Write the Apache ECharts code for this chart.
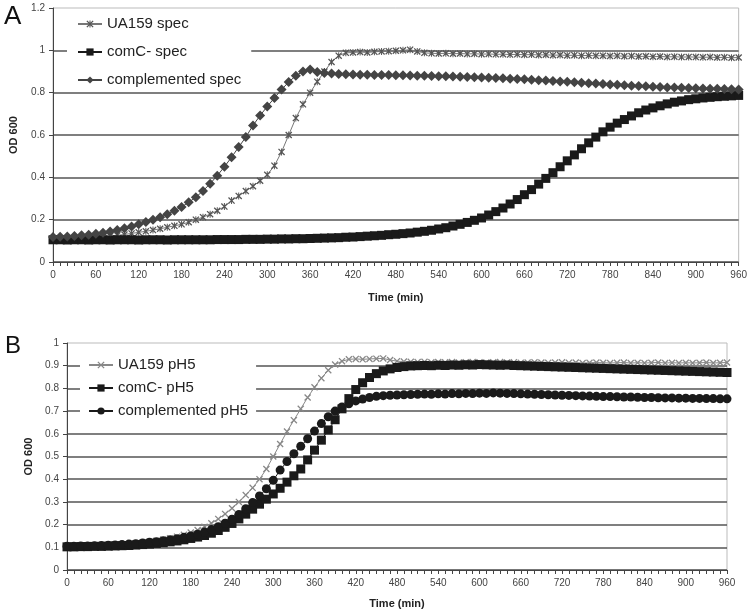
<!DOCTYPE html>
<html><head><meta charset="utf-8">
<script src="https://cdn.jsdelivr.net/npm/echarts@6/dist/echarts.min.js"></script>
<style>html,body{margin:0;padding:0;background:#fff}#c{width:750px;height:613px}</style>
</head><body><div id="c"></div>
<script>
const times = [0,10,20,30,40,50,60,70,80,90,100,110,120,130,140,150,160,170,180,190,200,210,220,230,240,250,260,270,280,290,300,310,320,330,340,350,360,370,380,390,400,410,420,430,440,450,460,470,480,490,500,510,520,530,540,550,560,570,580,590,600,610,620,630,640,650,660,670,680,690,700,710,720,730,740,750,760,770,780,790,800,810,820,830,840,850,860,870,880,890,900,910,920,930,940,950,960];

// Panel A
const uaSpec = [0.110,0.110,0.111,0.112,0.113,0.115,0.117,0.119,0.122,0.126,
0.130,0.135,0.140,0.145,0.151,0.157,0.164,0.171,0.178,0.188,
0.200,0.212,0.226,0.242,0.262,0.290,0.312,0.335,0.358,0.384,
0.412,0.455,0.520,0.600,0.680,0.745,0.800,0.852,0.900,0.945,
0.975,0.988,0.990,0.992,0.990,0.993,0.995,0.996,0.998,1.000,
1.003,0.995,0.988,0.986,0.985,0.986,0.984,0.985,0.983,0.984,
0.982,0.983,0.981,0.982,0.980,0.981,0.979,0.980,0.978,0.979,
0.977,0.978,0.976,0.977,0.975,0.976,0.974,0.975,0.973,0.974,
0.972,0.973,0.971,0.972,0.970,0.971,0.969,0.970,0.968,0.969,
0.968,0.967,0.968,0.966,0.967,0.965,0.966];
const comSpec = [0.105,0.105,0.104,0.105,0.105,0.104,0.105,0.105,0.104,0.105,
0.105,0.105,0.104,0.105,0.105,0.105,0.104,0.105,0.105,0.105,
0.105,0.105,0.105,0.106,0.106,0.106,0.106,0.107,0.107,0.107,
0.108,0.108,0.109,0.109,0.110,0.110,0.111,0.112,0.113,0.114,
0.115,0.117,0.118,0.120,0.122,0.124,0.126,0.129,0.131,0.134,
0.137,0.141,0.145,0.150,0.156,0.162,0.170,0.178,0.187,0.197,
0.208,0.222,0.238,0.255,0.274,0.295,0.318,0.342,0.368,0.395,
0.422,0.450,0.478,0.506,0.535,0.563,0.590,0.615,0.637,0.656,
0.673,0.690,0.705,0.718,0.728,0.738,0.747,0.755,0.761,0.767,
0.771,0.775,0.778,0.781,0.783,0.785,0.787];
const compSpec = [0.118,0.119,0.121,0.123,0.126,0.129,0.133,0.138,0.144,0.151,
0.159,0.168,0.178,0.189,0.200,0.212,0.226,0.242,0.260,0.282,
0.306,0.336,0.370,0.408,0.450,0.495,0.543,0.590,0.645,0.692,
0.735,0.775,0.815,0.850,0.880,0.900,0.910,0.898,0.893,0.890,
0.888,0.887,0.886,0.885,0.885,0.884,0.884,0.883,0.882,0.882,
0.881,0.880,0.880,0.879,0.878,0.877,0.876,0.875,0.874,0.873,
0.872,0.871,0.869,0.868,0.866,0.865,0.863,0.861,0.859,0.857,
0.855,0.853,0.851,0.849,0.847,0.845,0.843,0.841,0.839,0.837,
0.835,0.833,0.831,0.830,0.828,0.827,0.825,0.824,0.823,0.822,
0.821,0.820,0.819,0.818,0.817,0.816,0.815];

// Panel B
const uaPh = [0.105,0.105,0.106,0.106,0.107,0.108,0.109,0.111,0.113,0.115,
0.118,0.121,0.125,0.129,0.134,0.140,0.147,0.155,0.165,0.176,
0.190,0.206,0.225,0.247,0.272,0.300,0.330,0.362,0.400,0.445,
0.500,0.555,0.610,0.660,0.710,0.760,0.805,0.845,0.880,0.905,
0.920,0.928,0.930,0.928,0.930,0.931,0.932,0.925,0.920,0.918,
0.917,0.916,0.917,0.915,0.916,0.915,0.916,0.914,0.915,0.916,
0.915,0.914,0.915,0.916,0.914,0.915,0.913,0.914,0.915,0.914,
0.913,0.914,0.915,0.913,0.914,0.912,0.913,0.914,0.913,0.912,
0.913,0.914,0.912,0.913,0.912,0.913,0.914,0.912,0.913,0.912,
0.913,0.912,0.913,0.914,0.912,0.913,0.914];
const comPh = [0.102,0.102,0.103,0.103,0.104,0.104,0.105,0.106,0.107,0.108,
0.110,0.112,0.114,0.117,0.120,0.124,0.128,0.133,0.139,0.145,
0.152,0.162,0.174,0.188,0.205,0.225,0.246,0.268,0.290,0.312,
0.335,0.360,0.387,0.415,0.445,0.485,0.528,0.572,0.617,0.662,
0.710,0.755,0.795,0.825,0.848,0.865,0.877,0.886,0.892,0.896,
0.899,0.900,0.901,0.900,0.902,0.901,0.903,0.902,0.904,0.903,
0.905,0.904,0.903,0.902,0.903,0.901,0.900,0.899,0.898,0.897,
0.896,0.895,0.894,0.893,0.892,0.891,0.890,0.889,0.888,0.887,
0.886,0.885,0.884,0.883,0.882,0.881,0.880,0.879,0.878,0.877,
0.876,0.875,0.874,0.873,0.872,0.871,0.870];
const compPh = [0.105,0.105,0.106,0.106,0.107,0.108,0.109,0.110,0.112,0.114,
0.116,0.119,0.122,0.125,0.129,0.133,0.138,0.144,0.150,0.158,
0.167,0.178,0.191,0.206,0.224,0.245,0.270,0.297,0.326,0.358,
0.395,0.440,0.478,0.512,0.545,0.578,0.612,0.645,0.675,0.700,
0.718,0.732,0.745,0.753,0.760,0.765,0.768,0.770,0.771,0.772,
0.773,0.774,0.775,0.774,0.776,0.775,0.777,0.776,0.778,0.777,
0.779,0.778,0.780,0.779,0.778,0.777,0.776,0.775,0.774,0.773,
0.772,0.771,0.770,0.769,0.768,0.767,0.766,0.765,0.764,0.764,
0.763,0.762,0.762,0.761,0.760,0.760,0.759,0.758,0.758,0.757,
0.757,0.756,0.756,0.755,0.755,0.754,0.754];

const namesA = ['UA159 spec','comC- spec','complemented spec'];
const namesB = ['UA159 pH5','comC- pH5','complemented pH5'];
const xTitle = 'Time (min)';
const yTitle = 'OD 600';

const FONT = 'Liberation Sans, Arial, sans-serif';
const pair = arr => arr.map((v,i) => [times[i], v]);
const XPATH = 'path://M0,1.3L1.3,0L10,8.7L8.7,10Z M8.7,0L10,1.3L1.3,10L0,8.7Z';
const STAR = 'path://M0,1.3L1.3,0L10,8.7L8.7,10Z M8.7,0L10,1.3L1.3,10L0,8.7Z M4.3,0L5.7,0L5.7,10L4.3,10Z';

function xAx(gi, gap){
  return {gridIndex: gi, type:'value', min:0, max:960, interval:60,
    axisLine:{lineStyle:{color:'#444', width:1}},
    axisTick:{show:true, length:4, lineStyle:{color:'#444'}},
    minorTick:{show:true, splitNumber:6, length:4, lineStyle:{color:'#444'}},
    axisLabel:{fontSize:10, color:'#444', margin:8, fontFamily:FONT},
    splitLine:{show:false},
    name:xTitle, nameLocation:'middle', nameGap:gap,
    nameTextStyle:{fontWeight:'bold', fontSize:11, color:'#222', fontFamily:FONT}};
}
function yAx(gi, max, interval, gap, fmt){
  return {gridIndex: gi, type:'value', min:0, max:max, interval:interval,
    axisLine:{show:true, lineStyle:{color:'#444', width:1}},
    axisTick:{show:true, length:4, lineStyle:{color:'#444'}},
    axisLabel:{fontSize:10, color:'#444', margin:8, fontFamily:FONT, formatter:fmt},
    splitLine:{show:true, showMaxLine:false, lineStyle:{color:'#555', width:1.6}},
    name:yTitle, nameLocation:'middle', nameGap:gap,
    nameTextStyle:{fontWeight:'bold', fontSize:11, color:'#222', fontFamily:FONT}};
}
function ser(name, data, xi, symbol, size, color, lineColor){
  return {name, type:'line', xAxisIndex:xi, yAxisIndex:xi, data:pair(data),
    symbol, symbolSize:size, showSymbol:true, showAllSymbol:true,
    lineStyle:{color:lineColor, width:1}, itemStyle:{color:color, borderWidth:0}, z:3};
}

const chart = echarts.init(document.getElementById('c'));
chart.setOption({
  animation:false,
  backgroundColor:'#fff',
  grid:[
    {left:52, top:8, width:689, height:254, show:true, borderColor:'#bbb', borderWidth:1, backgroundColor:'#fff'},
    {left:67, top:343, width:660, height:227, show:true, borderColor:'#bbb', borderWidth:1, backgroundColor:'#fff'}
  ],
  xAxis:[xAx(0,30), xAx(1,28)],
  yAxis:[
    yAx(0, 1.2, 0.2, 34, v => (Math.round(v*10)/10).toString()),
    yAx(1, 1, 0.1, 32, v => v===0 ? '0' : (v===1 ? '1' : v.toFixed(1)))
  ],
  legend:[
    {data:namesA, orient:'vertical', left:67, top:14, itemWidth:24, itemHeight:9, itemGap:12,
     padding:[2,10,2,10], backgroundColor:'#fff',
     textStyle:{fontSize:15, color:'#222', fontFamily:FONT, lineHeight:16}},
    {data:namesB, orient:'vertical', left:80, top:355, itemWidth:24, itemHeight:9, itemGap:7,
     padding:[2,8,2,8], backgroundColor:'#fff',
     textStyle:{fontSize:15, color:'#222', fontFamily:FONT, lineHeight:16}}
  ],
  graphic:[
    {type:'text', left:4, top:4, style:{text:'A', fontSize:26, fill:'#111', fontFamily:FONT}},
    {type:'text', left:5, top:334, style:{text:'B', fontSize:24, fill:'#111', fontFamily:FONT}}
  ],
  series:[
    ser(namesA[0], uaSpec, 0, STAR, 7, '#555', '#777'),
    ser(namesA[1], comSpec, 0, 'rect', 9, '#1a1a1a', '#1a1a1a'),
    ser(namesA[2], compSpec, 0, 'diamond', 10, '#444', '#444'),
    ser(namesB[0], uaPh, 1, XPATH, 7, '#888', '#888'),
    ser(namesB[1], comPh, 1, 'rect', 9, '#1a1a1a', '#1a1a1a'),
    ser(namesB[2], compPh, 1, 'circle', 9, '#1a1a1a', '#1a1a1a')
  ]
});
</script>
</body></html>
